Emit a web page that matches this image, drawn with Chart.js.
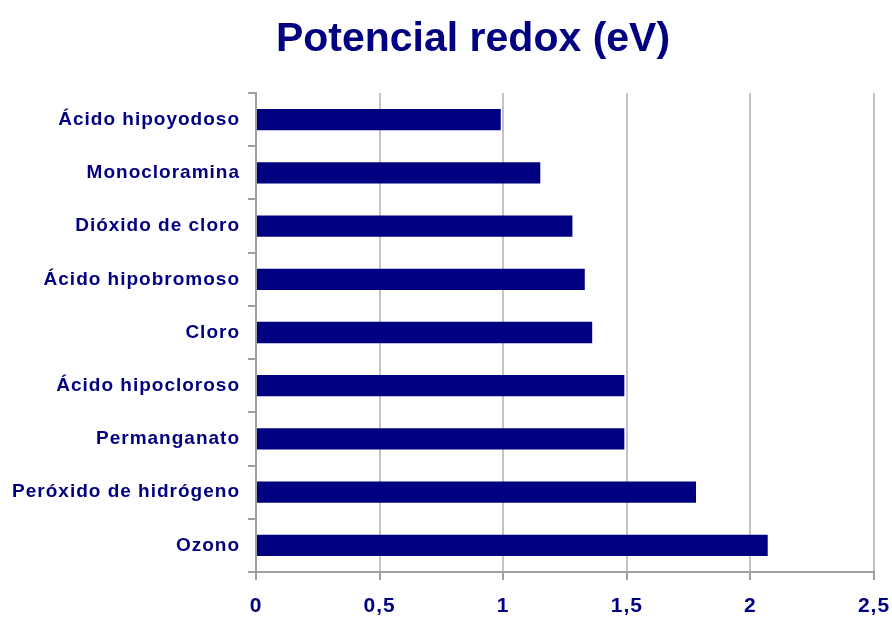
<!DOCTYPE html>
<html><head><meta charset="utf-8">
<script src="https://cdn.jsdelivr.net/npm/chart.js@4/dist/chart.umd.min.js"></script>
<style>html,body{margin:0;padding:0;background:#fff;}#wrap{width:892px;height:617px;}</style>
</head><body><div id="wrap"><canvas id="c" width="892" height="617"></canvas></div>
<script>
const categories = ["Ácido hipoyodoso","Monocloramina","Dióxido de cloro","Ácido hipobromoso","Cloro","Ácido hipocloroso","Permanganato","Peróxido de hidrógeno","Ozono"];
const values = [0.99, 1.15, 1.28, 1.33, 1.36, 1.49, 1.49, 1.78, 2.07];
const titleText = "Potencial redox (eV)";
const xTicks = [0, 0.5, 1, 1.5, 2, 2.5];

const NAVY = "#000080";
const spacingPlugin = {
  id: "spacing",
  beforeDraw(chart) { chart.ctx.letterSpacing = "1px"; },
  afterDraw(chart) {
    const ctx = chart.ctx;
    ctx.save();
    ctx.letterSpacing = "0px";
    ctx.fillStyle = NAVY;
    ctx.font = "bold 41px 'Liberation Sans', Arial, sans-serif";
    ctx.textAlign = "center";
    ctx.textBaseline = "alphabetic";
    ctx.fillText(titleText, 473, 51);
    ctx.restore();
  }
};

new Chart(document.getElementById("c"), {
  type: "bar",
  data: { labels: categories, datasets: [{ data: values, backgroundColor: NAVY, borderWidth: 0, categoryPercentage: 1, barPercentage: 0.4 }] },
  options: {
    indexAxis: "y",
    responsive: false,
    animation: false,
    layout: { padding: { top: 93, right: 18, left: 0, bottom: 0 } },
    plugins: { legend: { display: false }, title: { display: false }, tooltip: { enabled: false } },
    scales: {
      x: {
        min: 0, max: 2.5,
        afterBuildTicks(s) { s.ticks = xTicks.map(v => ({ value: v })); },
        afterFit(s) { s.height = 45; s.paddingRight = 0; s.paddingLeft = 0; },
        grid: { color: "#c4c4c4", lineWidth: 2, tickLength: 8, tickColor: "#a0a0a0" },
        border: { color: "#a0a0a0", width: 2 },
        ticks: { color: NAVY, padding: 14, font: { family: "'Liberation Sans', Arial, sans-serif", size: 21, weight: "bold" },
          callback: v => String(v).replace(".", ",") , maxRotation: 0 }
      },
      y: {
        afterFit(s) { s.width = 256; },
        grid: { drawOnChartArea: false, tickLength: 8, color: "#a0a0a0", lineWidth: 2, offset: true },
        border: { color: "#a0a0a0", width: 2 },
        ticks: { color: NAVY, padding: 8, font: { family: "'Liberation Sans', Arial, sans-serif", size: 19, weight: "bold" } }
      }
    }
  },
  plugins: [spacingPlugin]
});
</script></body></html>
